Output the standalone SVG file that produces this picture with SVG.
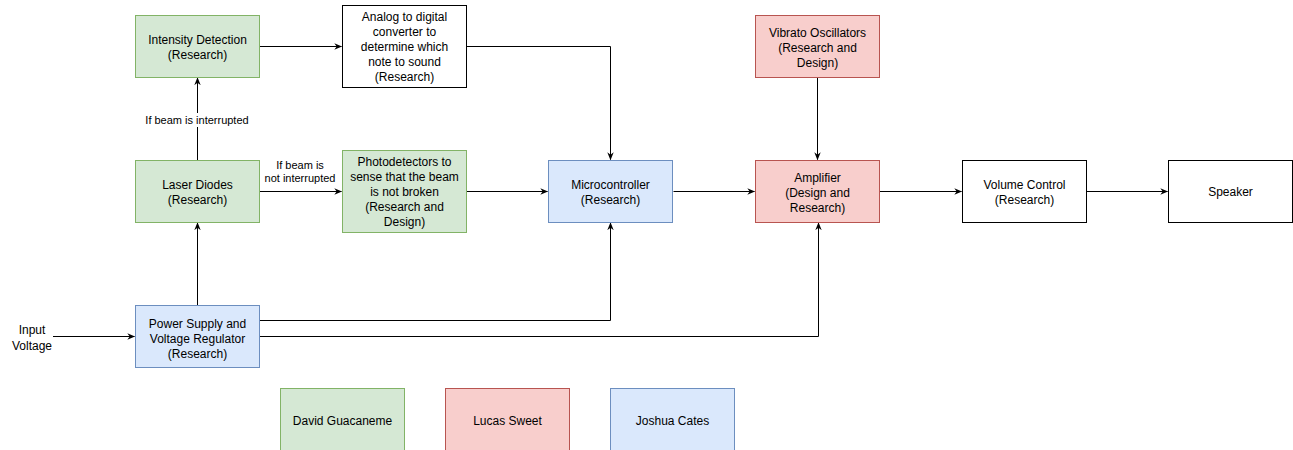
<svg xmlns="http://www.w3.org/2000/svg" width="1293" height="450" viewBox="0 0 1293 450">
<defs>
<marker id="arr" viewBox="0 0 10 10" refX="9" refY="5" markerWidth="8" markerHeight="8" markerUnits="userSpaceOnUse" orient="auto"><path d="M0,1 L10,5 L0,9 L3,5 Z" fill="#000"/></marker>
<style>
.g{fill:#d5e8d4;stroke:#82b366;stroke-width:1}
.r{fill:#f8cecc;stroke:#b85450;stroke-width:1}
.b{fill:#dae8fc;stroke:#6c8ebf;stroke-width:1}
.w{fill:#fff;stroke:#000;stroke-width:1}
text{font-family:"Liberation Sans",Arial,sans-serif;font-size:12px;fill:#000;text-anchor:middle}
.lbl{font-size:11px}
.c{fill:none;stroke:#000;stroke-width:1;marker-end:url(#arr)}
</style>
</defs>
<rect width="1293" height="450" fill="#fff"/>
<g id="connectors">
<path class="c" d="M259.5,46.5 H341.5"/>
<path class="c" d="M466.5,46.5 H610.5 V159.5"/>
<path class="c" d="M197.5,160 V78"/>
<path class="c" d="M259.5,191.5 H341.5"/>
<path class="c" d="M466.5,191.5 H547.5"/>
<path class="c" d="M673.5,191.5 H754.5"/>
<path class="c" d="M817.5,77.5 V159.5"/>
<path class="c" d="M879.5,191.5 H961.5"/>
<path class="c" d="M1086.5,191.5 H1167.5"/>
<path class="c" d="M197.5,305 V223"/>
<path class="c" d="M53,336.5 H134.5"/>
<path class="c" d="M259.5,320.5 H610.5 V223"/>
<path class="c" d="M259.5,336.5 H818.5 V223"/>
<rect x="143" y="113" width="108" height="14" fill="#fff"/>
<text class="lbl" x="197" y="124">If beam is interrupted</text>
<rect x="262" y="157" width="77" height="28" fill="#fff"/>
<text class="lbl" x="300" y="169">If beam is</text>
<text class="lbl" x="300" y="182">not interrupted</text>
</g>
<g id="intensity"><rect class="g" x="135.5" y="15.5" width="124" height="62"/><text x="197.5" y="44">Intensity Detection</text><text x="197.5" y="59">(Research)</text></g>
<g id="adc"><rect class="w" x="342.5" y="5.5" width="124" height="82"/><text x="404.5" y="21">Analog to digital</text><text x="404.5" y="36">converter to</text><text x="404.5" y="51">determine which</text><text x="404.5" y="66">note to sound</text><text x="404.5" y="81">(Research)</text></g>
<g id="laser"><rect class="g" x="135.5" y="160.5" width="124" height="62"/><text x="197.5" y="189">Laser Diodes</text><text x="197.5" y="204">(Research)</text></g>
<g id="photo"><rect class="g" x="342.5" y="150.5" width="124" height="82"/><text x="404.5" y="166">Photodetectors to</text><text x="404.5" y="181">sense that the beam</text><text x="404.5" y="196">is not broken</text><text x="404.5" y="211">(Research and</text><text x="404.5" y="226">Design)</text></g>
<g id="micro"><rect class="b" x="548.5" y="160.5" width="124" height="62"/><text x="610.5" y="189">Microcontroller</text><text x="610.5" y="204">(Research)</text></g>
<g id="vibrato"><rect class="r" x="755.5" y="15.5" width="124" height="62"/><text x="817.5" y="37">Vibrato Oscillators</text><text x="817.5" y="52">(Research and</text><text x="817.5" y="67">Design)</text></g>
<g id="amp"><rect class="r" x="755.5" y="160.5" width="124" height="62"/><text x="817.5" y="182">Amplifier</text><text x="817.5" y="197">(Design and</text><text x="817.5" y="212">Research)</text></g>
<g id="volume"><rect class="w" x="962.5" y="160.5" width="124" height="62"/><text x="1024.5" y="189">Volume Control</text><text x="1024.5" y="204">(Research)</text></g>
<g id="speaker"><rect class="w" x="1168.5" y="160.5" width="124" height="62"/><text x="1230.5" y="196">Speaker</text></g>
<g id="power"><rect class="b" x="135.5" y="305.5" width="124" height="62"/><text x="197.5" y="328">Power Supply and</text><text x="197.5" y="343">Voltage Regulator</text><text x="197.5" y="358">(Research)</text></g>
<g id="input"><text x="32" y="334">Input</text><text x="32" y="350">Voltage</text></g>
<g id="legend-david"><rect class="g" x="280.5" y="388.5" width="124" height="66"/><text x="342.5" y="425">David Guacaneme</text></g>
<g id="legend-lucas"><rect class="r" x="445.5" y="388.5" width="124" height="66"/><text x="507.5" y="425">Lucas Sweet</text></g>
<g id="legend-joshua"><rect class="b" x="610.5" y="388.5" width="124" height="66"/><text x="672.5" y="425">Joshua Cates</text></g>
</svg>
